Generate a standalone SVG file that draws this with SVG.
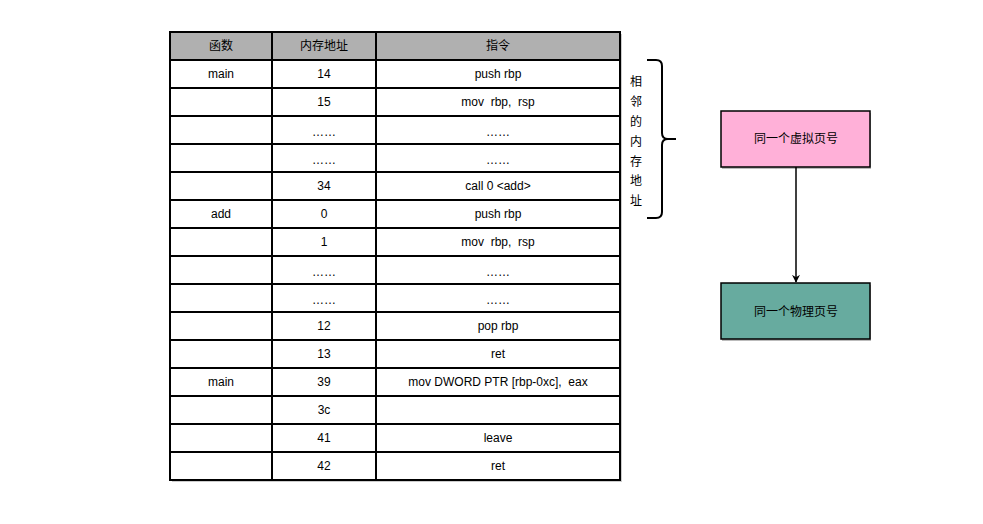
<svg xmlns="http://www.w3.org/2000/svg" width="983" height="524" viewBox="0 0 983 524">
<defs>
<style>
.t{font-family:"Liberation Sans","Noto Sans CJK SC",sans-serif;font-size:12px;fill:#000;text-anchor:middle;dominant-baseline:central;white-space:pre}
.g{stroke:#000;stroke-width:2;fill:none}
</style>
<marker id="ah" viewBox="0 0 10 10" refX="9" refY="5" markerWidth="8" markerHeight="8" markerUnits="userSpaceOnUse" orient="auto"><path d="M0,0 L10,5 L0,10 L3,5 Z" fill="#000"/></marker>
</defs>
<rect width="983" height="524" fill="#fff"/>
<g id="table">
<rect x="172" y="34" width="450" height="448" fill="#ccc"/>
<rect x="170" y="32" width="450" height="448" fill="#fff"/>
<rect x="170" y="32" width="450" height="28" fill="#b0b0b0"/>
<g class="g">
<rect x="170" y="32" width="450" height="448"/>
<line x1="272" y1="32" x2="272" y2="480"/>
<line x1="376" y1="32" x2="376" y2="480"/>
<path d="M170 60H620M170 88H620M170 116H620M170 144H620M170 172H620M170 200H620M170 228H620M170 256H620M170 284H620M170 312H620M170 340H620M170 368H620M170 396H620M170 424H620M170 452H620"/>
</g>
<text class="t" x="221" y="46">函数</text>
<text class="t" x="324" y="46">内存地址</text>
<text class="t" x="498" y="46">指令</text>
<text class="t" x="221" y="74">main</text><text class="t" x="324" y="74">14</text><text class="t" x="498" y="74">push rbp</text>
<text class="t" x="324" y="102">15</text><text class="t" x="498" y="102" xml:space="preserve">mov  rbp,  rsp</text>
<text class="t" x="324" y="132" font-size="8">……</text><text class="t" x="498" y="132" font-size="8">……</text>
<text class="t" x="324" y="160" font-size="8">……</text><text class="t" x="498" y="160" font-size="8">……</text>
<text class="t" x="324" y="186">34</text><text class="t" x="498" y="186">call 0 &lt;add&gt;</text>
<text class="t" x="221" y="214">add</text><text class="t" x="324" y="214">0</text><text class="t" x="498" y="214">push rbp</text>
<text class="t" x="324" y="242">1</text><text class="t" x="498" y="242" xml:space="preserve">mov  rbp,  rsp</text>
<text class="t" x="324" y="272" font-size="8">……</text><text class="t" x="498" y="272" font-size="8">……</text>
<text class="t" x="324" y="300" font-size="8">……</text><text class="t" x="498" y="300" font-size="8">……</text>
<text class="t" x="324" y="326">12</text><text class="t" x="498" y="326">pop rbp</text>
<text class="t" x="324" y="354">13</text><text class="t" x="498" y="354">ret</text>
<text class="t" x="221" y="382">main</text><text class="t" x="324" y="382">39</text><text class="t" x="498" y="382" xml:space="preserve">mov DWORD PTR [rbp-0xc],  eax</text>
<text class="t" x="324" y="410">3c</text>
<text class="t" x="324" y="438">41</text><text class="t" x="498" y="438">leave</text>
<text class="t" x="324" y="466">42</text><text class="t" x="498" y="466">ret</text>
</g>
<g id="brace">
<path class="g" d="M647 60 H656 Q662 60 662 66 V133 Q662 139 668 139 H676 M668 139 Q662 139 662 145 V212 Q662 218 656 218 H647"/>
<text class="t" x="636" y="82">相</text>
<text class="t" x="636" y="102">邻</text>
<text class="t" x="636" y="122">的</text>
<text class="t" x="636" y="142">内</text>
<text class="t" x="636" y="162">存</text>
<text class="t" x="636" y="181">地</text>
<text class="t" x="636" y="201">址</text>
</g>
<g id="virtual">
<rect x="722" y="113" width="149" height="56" fill="#bbb"/>
<rect x="721" y="111" width="149" height="56" fill="#ffb0d8" stroke="#000" stroke-width="1.5"/>
<text class="t" x="796" y="139">同一个虚拟页号</text>
</g>
<g id="physical">
<rect x="722" y="285" width="149" height="56" fill="#bbb"/>
<rect x="721" y="283" width="149" height="56" fill="#67ab9f" stroke="#000" stroke-width="1.5"/>
<text class="t" x="796" y="312">同一个物理页号</text>
</g>
<g id="connectors">
<line x1="796" y1="167" x2="796" y2="282" stroke="#000" stroke-width="1.5" marker-end="url(#ah)"/>
</g>
</svg>
